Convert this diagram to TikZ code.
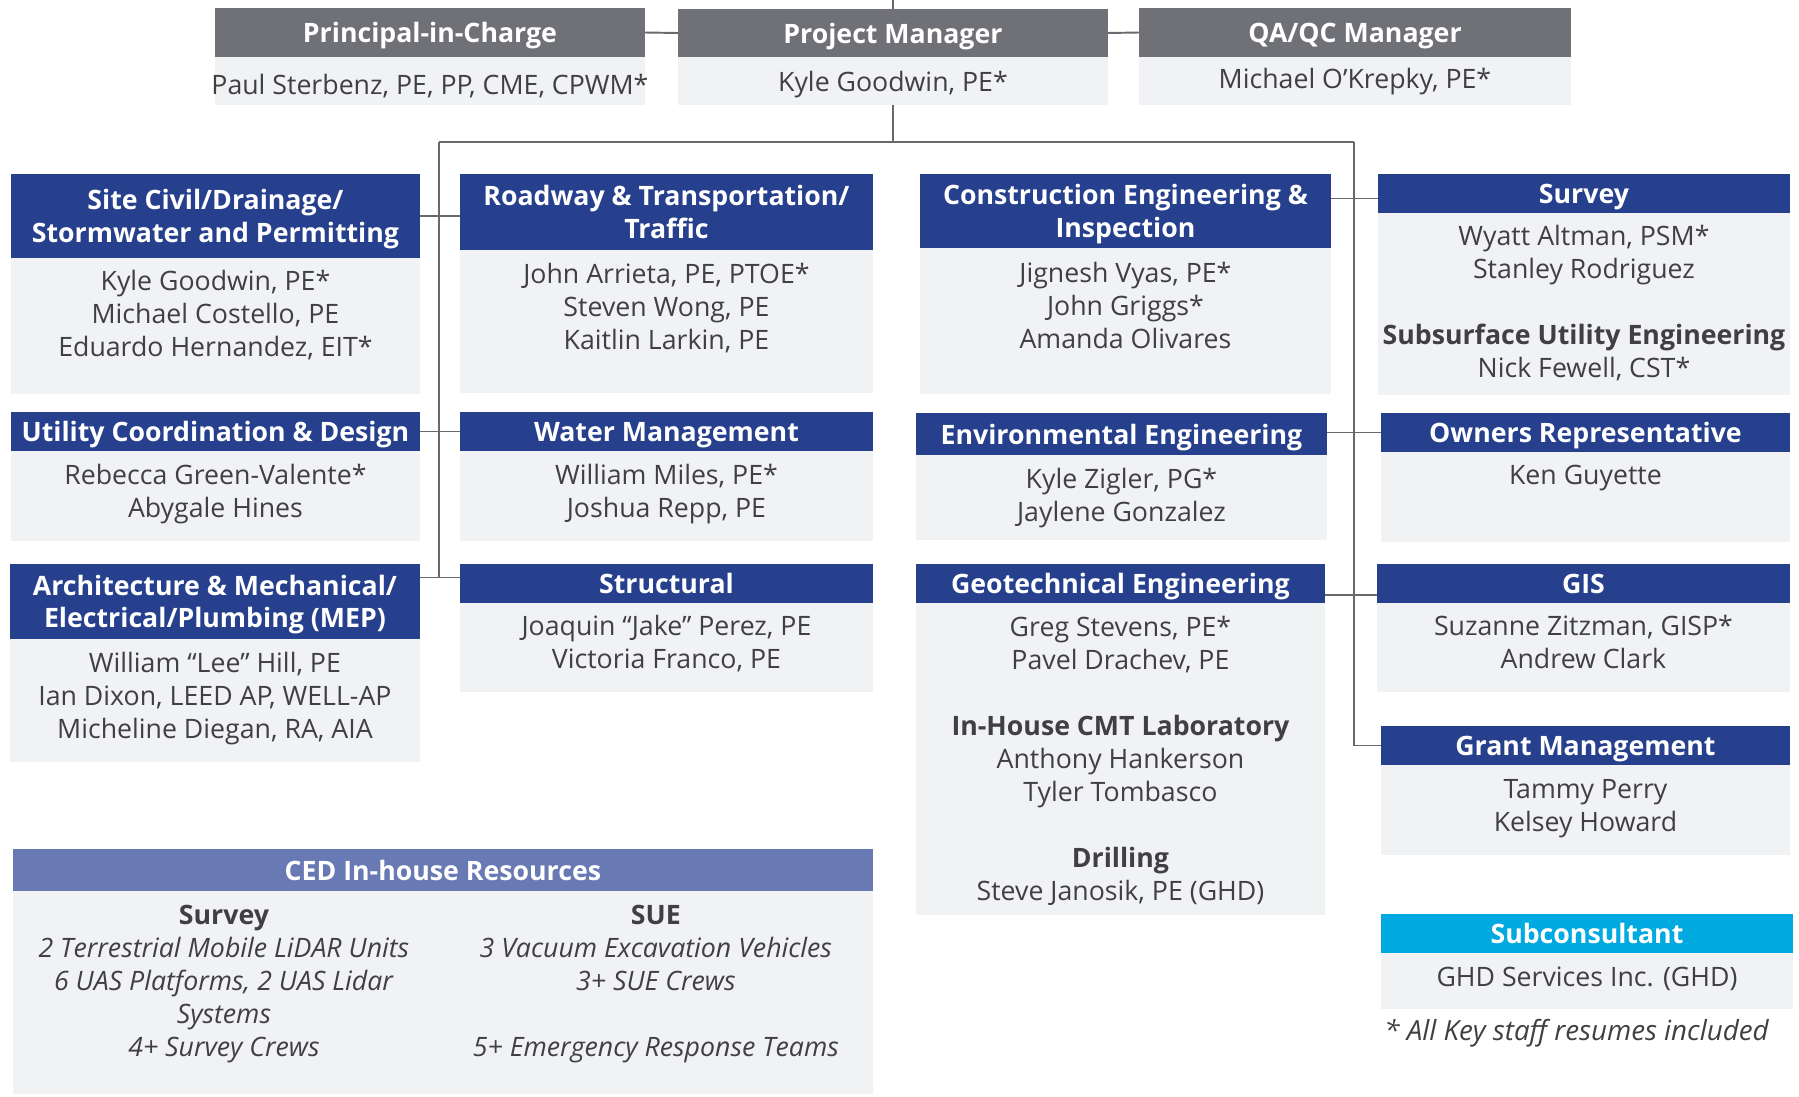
\documentclass[tikz,border=0pt]{standalone}
\usepackage{fontspec}
\setmainfont{Open Sans}
\usetikzlibrary{positioning}
\definecolor{leadgray}{RGB}{112, 113, 118}
\definecolor{deptblue}{RGB}{38, 64, 141}
\definecolor{resblue}{RGB}{104, 121, 180}
\definecolor{subcyan}{RGB}{0, 169, 224}
\definecolor{boxgray}{RGB}{241, 242, 244}
\definecolor{namegray}{RGB}{64, 64, 66}
\definecolor{linegray}{RGB}{105, 105, 108}

\begin{document}
\begin{tikzpicture}[x=0.02cm, y=-0.02cm,
  hdr/.style={fill=deptblue, text=white, font=\fontsize{15.2}{18.6}\selectfont\bfseries, align=center, anchor=north west, inner sep=2pt, outer sep=0pt, text depth=0pt},
  body/.style={fill=boxgray, inner sep=0pt, outer sep=0pt},
  names/.style={text=namegray, font=\fontsize{15.2}{18.8}\selectfont, align=center, inner sep=0pt},
  link/.style={draw=linegray, line width=1.1pt}]
  \useasboundingbox (0,0) rectangle (1799,1096);

  % Leadership
  \node[hdr, fill=leadgray, minimum width=8.6cm, minimum height=0.98cm] (picH) at (215,8) {Principal-in-Charge};
  \node[body, minimum width=8.6cm, minimum height=0.96cm, below=0pt of picH] (picB) {};
  \node[names, below=0.34cm of picB.north] (picN) {Paul Sterbenz, PE, PP, CME, CPWM*};
  \node[hdr, fill=leadgray, minimum width=8.6cm, minimum height=0.96cm] (pmH) at (678,9) {Project Manager};
  \node[body, minimum width=8.6cm, minimum height=0.96cm, below=0pt of pmH] (pmB) {};
  \node[names, below=0.27cm of pmB.north] (pmN) {Kyle Goodwin, PE*};
  \node[hdr, fill=leadgray, minimum width=8.64cm, minimum height=0.98cm] (qaH) at (1139,8) {QA/QC Manager};
  \node[body, minimum width=8.64cm, minimum height=0.96cm, below=0pt of qaH] (qaB) {};
  \node[names, below=0.22cm of qaB.north] (qaN) {Michael O’Krepky, PE*};

  % Site Civil
  \node[hdr, minimum width=8.18cm, minimum height=1.68cm] (civH) at (11,174) {Site Civil/Drainage/\\Stormwater and Permitting};
  \node[body, minimum width=8.18cm, minimum height=2.72cm, below=0pt of civH] (civB) {};
  \node[names, below=0.23cm of civB.north] (civN) {Kyle Goodwin, PE*\\Michael Costello, PE\\Eduardo Hernandez, EIT*};

  % Roadway
  \node[hdr, minimum width=8.26cm, minimum height=1.52cm] (roadH) at (460,174) {Roadway \& Transportation/\\Traffic};
  \node[body, minimum width=8.26cm, minimum height=2.86cm, below=0pt of roadH] (roadB) {};
  \node[names, below=0.25cm of roadB.north] (roadN) {John Arrieta, PE, PTOE*\\Steven Wong, PE\\Kaitlin Larkin, PE};

  % Utility Coordination
  \node[hdr, minimum width=8.18cm, minimum height=0.78cm] (utilH) at (11,412) {Utility Coordination \& Design};
  \node[body, minimum width=8.18cm, minimum height=1.8cm, below=0pt of utilH] (utilB) {};
  \node[names, below=0.25cm of utilB.north] (utilN) {Rebecca Green-Valente*\\Abygale Hines};

  % Water Management
  \node[hdr, minimum width=8.26cm, minimum height=0.78cm] (waterH) at (460,412) {Water Management};
  \node[body, minimum width=8.26cm, minimum height=1.8cm, below=0pt of waterH] (waterB) {};
  \node[names, below=0.25cm of waterB.north] (waterN) {William Miles, PE*\\Joshua Repp, PE};

  % Architecture & MEP
  \node[hdr, minimum width=8.2cm, minimum height=1.5cm] (archH) at (10,564) {Architecture \& Mechanical/\\Electrical/Plumbing (MEP)};
  \node[body, minimum width=8.2cm, minimum height=2.46cm, below=0pt of archH] (archB) {};
  \node[names, below=0.25cm of archB.north] (archN) {William “Lee” Hill, PE\\Ian Dixon, LEED AP, WELL-AP\\Micheline Diegan, RA, AIA};

  % Structural
  \node[hdr, minimum width=8.26cm, minimum height=0.78cm] (strH) at (460,564) {Structural};
  \node[body, minimum width=8.26cm, minimum height=1.78cm, below=0pt of strH] (strB) {};
  \node[names, below=0.23cm of strB.north] (strN) {Joaquin “Jake” Perez, PE\\Victoria Franco, PE};

  % Construction Engineering
  \node[hdr, minimum width=8.22cm, minimum height=1.48cm] (ceiH) at (920,174) {Construction Engineering \&\\Inspection};
  \node[body, minimum width=8.22cm, minimum height=2.92cm, below=0pt of ceiH] (ceiB) {};
  \node[names, below=0.27cm of ceiB.north] (ceiN) {Jignesh Vyas, PE*\\John Griggs*\\Amanda Olivares};

  % Survey
  \node[hdr, minimum width=8.24cm, minimum height=0.78cm] (srvH) at (1378,174) {Survey};
  \node[body, minimum width=8.24cm, minimum height=3.64cm, below=0pt of srvH] (srvB) {};
  \node[names, below=0.23cm of srvB.north] (srvN) {Wyatt Altman, PSM*\\Stanley Rodriguez\\[18.8pt]\textbf{Subsurface Utility Engineering}\\Nick Fewell, CST*};

  % Environmental
  \node[hdr, minimum width=8.22cm, minimum height=0.84cm] (envH) at (916,413) {Environmental Engineering};
  \node[body, minimum width=8.22cm, minimum height=1.7cm, below=0pt of envH] (envB) {};
  \node[names, below=0.25cm of envB.north] (envN) {Kyle Zigler, PG*\\Jaylene Gonzalez};

  % Owners Representative
  \node[hdr, minimum width=8.18cm, minimum height=0.78cm] (ownH) at (1381,413) {Owners Representative};
  \node[body, minimum width=8.18cm, minimum height=1.8cm, below=0pt of ownH] (ownB) {};
  \node[names, below=0.25cm of ownB.north] (ownN) {Ken Guyette};

  % Geotechnical
  \node[hdr, minimum width=8.18cm, minimum height=0.78cm] (geoH) at (916,564) {Geotechnical Engineering};
  \node[body, minimum width=8.18cm, minimum height=6.24cm, below=0pt of geoH] (geoB) {};
  \node[names, below=0.25cm of geoB.north] (geoN) {Greg Stevens, PE*\\Pavel Drachev, PE\\[18.8pt]\textbf{In-House CMT Laboratory}\\Anthony Hankerson\\Tyler Tombasco\\[18.8pt]\textbf{Drilling}\\Steve Janosik, PE (GHD)};

  % GIS
  \node[hdr, minimum width=8.26cm, minimum height=0.78cm] (gisH) at (1377,564) {GIS};
  \node[body, minimum width=8.26cm, minimum height=1.78cm, below=0pt of gisH] (gisB) {};
  \node[names, below=0.23cm of gisB.north] (gisN) {Suzanne Zitzman, GISP*\\Andrew Clark};

  % Grant Management
  \node[hdr, minimum width=8.18cm, minimum height=0.78cm] (grantH) at (1381,726) {Grant Management};
  \node[body, minimum width=8.18cm, minimum height=1.8cm, below=0pt of grantH] (grantB) {};
  \node[names, below=0.29cm of grantB.north] (grantN) {Tammy Perry\\Kelsey Howard};

  % Subconsultant
  \node[hdr, fill=subcyan, minimum width=8.24cm, minimum height=0.78cm] (subH) at (1381,914) {Subconsultant};
  \node[body, minimum width=8.24cm, minimum height=1.12cm, below=0pt of subH] (subB) {};
  \node[names, below=0.28cm of subB.north] (subN) {GHD Services Inc. (GHD)};
  \node[anchor=west, inner sep=0pt, text=namegray, font=\fontsize{15.8}{19}\selectfont\itshape] (note) at (1384,1033) {* All Key staff resumes included};

  % CED resources
  \node[hdr, fill=resblue, minimum width=17.2cm, minimum height=0.84cm] (cedH) at (13,849) {CED In-house Resources};
  \node[body, minimum width=17.2cm, minimum height=4.06cm, below=0pt of cedH] (cedB) {};
  \node[names, below=0.27cm of cedB.north, xshift=-4.38cm] (cedSrv) {\textbf{Survey}\\\textit{2 Terrestrial Mobile LiDAR Units}\\\textit{6 UAS Platforms, 2 UAS Lidar}\\\textit{Systems}\\\textit{4+ Survey Crews}};
  \node[names, below=0.27cm of cedB.north, xshift=4.26cm] (cedSue) {\textbf{SUE}\\\textit{3 Vacuum Excavation Vehicles}\\\textit{3+ SUE Crews}\\[18.8pt]\textit{5+ Emergency Response Teams}};

  % Connectors
  \coordinate (top) at (893,0);
  \coordinate (lj) at (439,142);
  \coordinate (rj) at (1354,142);
  \draw[link] (top) -- (pmH.north);
  \draw[link] (picH.east) -- (pmH.west);
  \draw[link] (pmH.east) -- (qaH.west);
  \draw[link] (pmB.south) -- (pmB.south |- lj);
  \draw[link] (lj) -- (rj);
  \draw[link] (lj) -- ([yshift=0.12cm]strH.west -| lj);
  \draw[link] (civH.east) -- (civH.east -| roadH.west);
  \draw[link] (utilH.east) -- (utilH.east -| waterH.west);
  \draw[link] ([yshift=0.12cm]archH.east |- strH.west) -- ([yshift=0.12cm]strH.west);
  \draw[link] (rj) |- (grantH.west);
  \draw[link] ([yshift=-0.1cm]ceiH.east |- srvH.west) -- ([yshift=-0.1cm]srvH.west);
  \draw[link] (envH.east |- ownH.west) -- (ownH.west);
  \draw[link] ([yshift=-0.23cm]geoH.east |- gisH.west) -- ([yshift=-0.23cm]gisH.west);
\end{tikzpicture}
\end{document}
